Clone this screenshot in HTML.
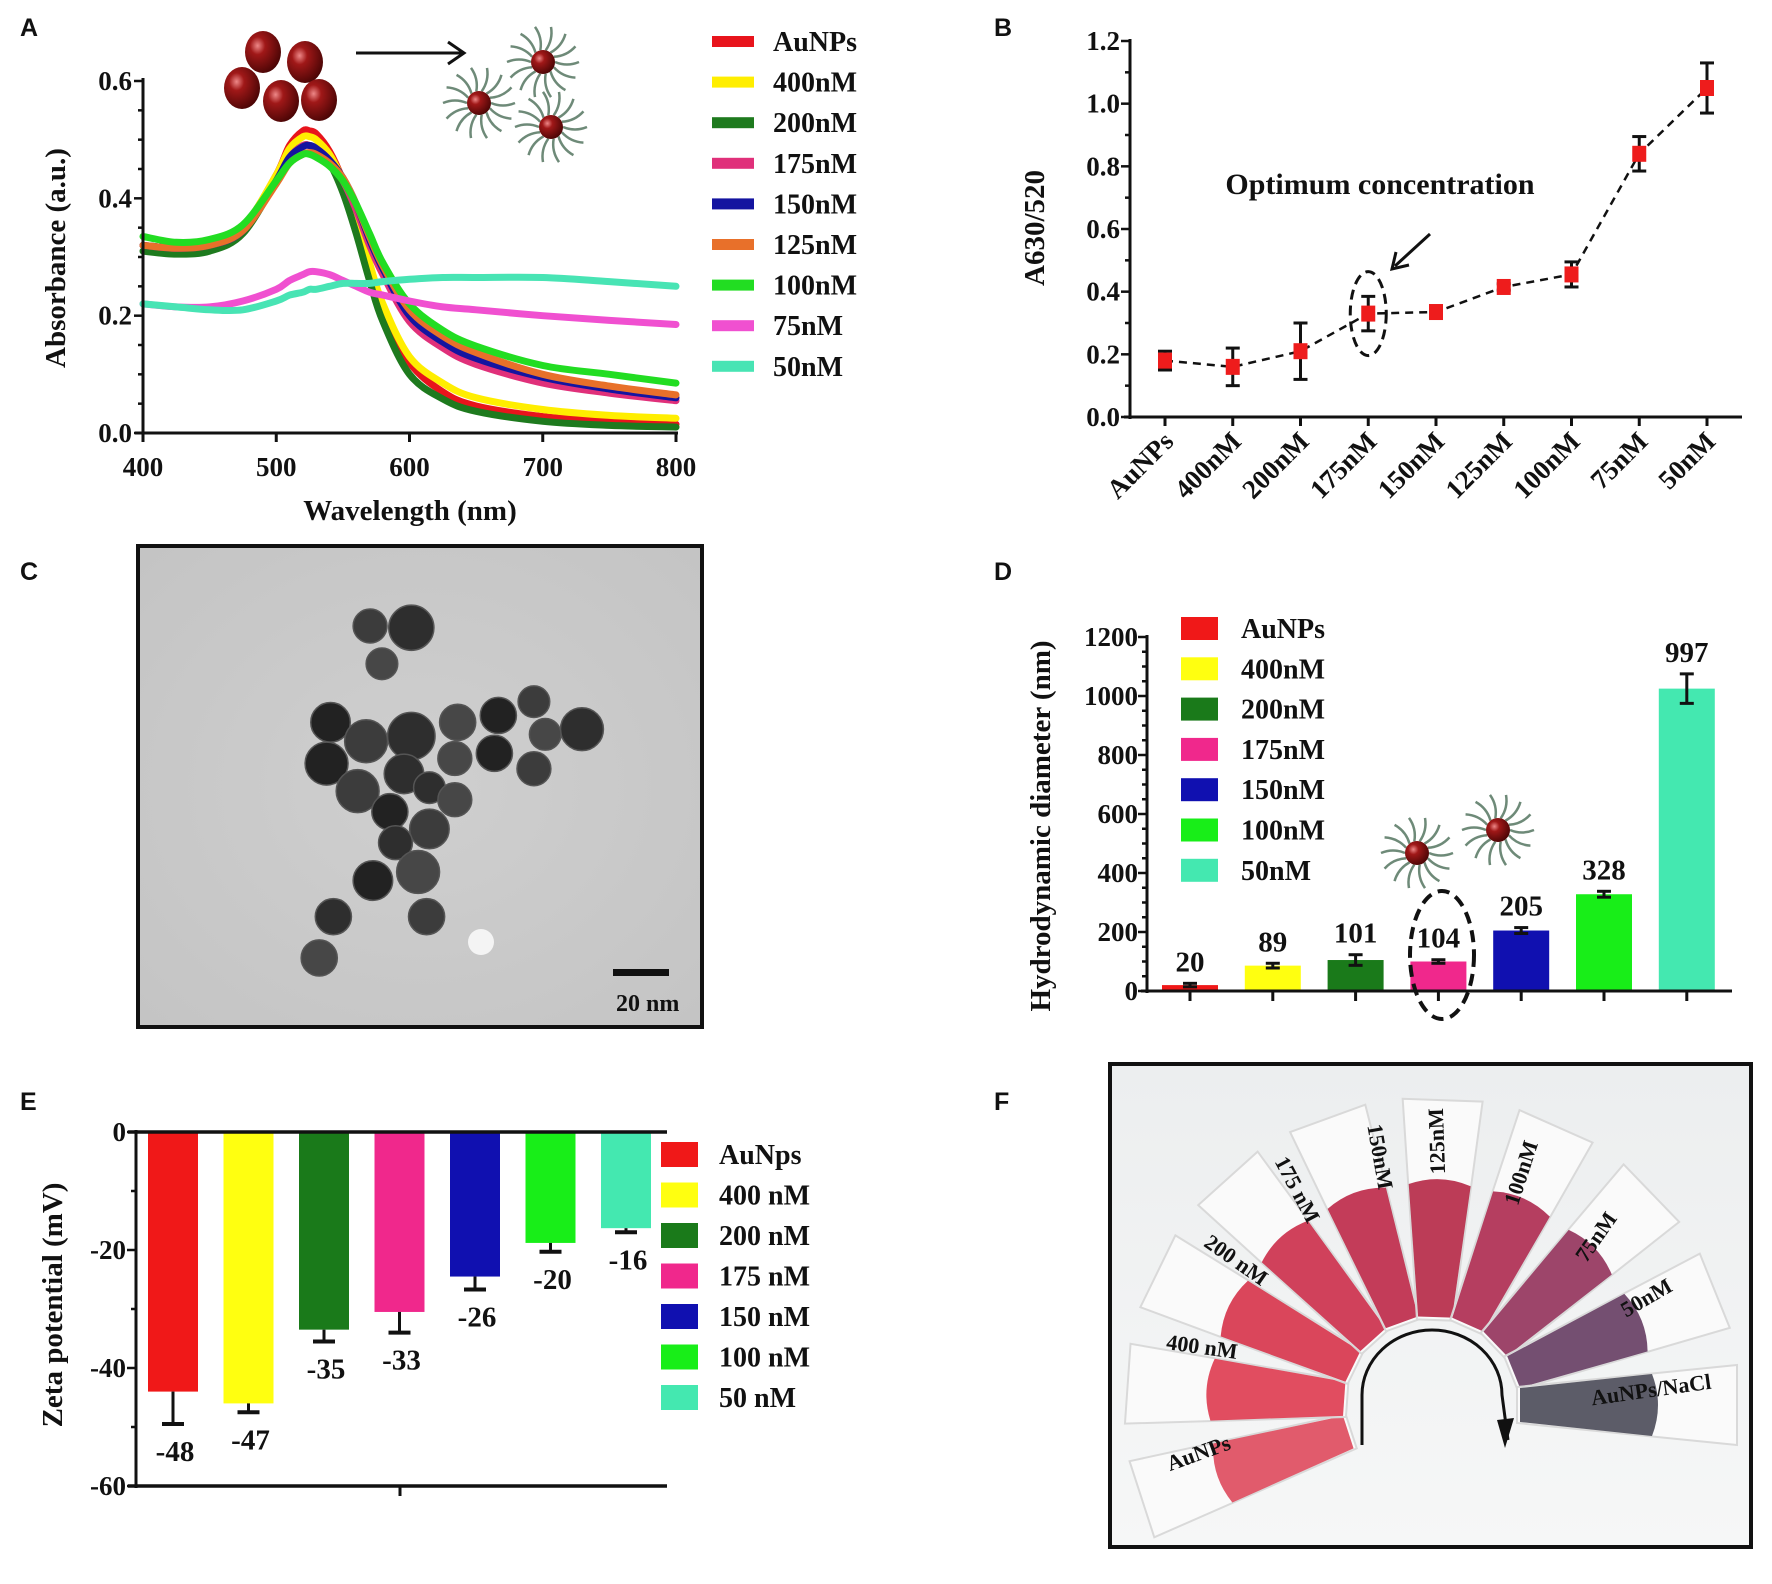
<!DOCTYPE html>
<html><head><meta charset="utf-8">
<style>
body{margin:0;background:#fff;}
svg{display:block;}
text{font-family:"Liberation Serif",serif;font-weight:bold;fill:#111;}
.pl{font-family:"Liberation Sans",sans-serif;font-weight:bold;font-size:25px;}
</style></head>
<body>
<svg id="fig" width="1772" height="1584" viewBox="0 0 1772 1584" xmlns="http://www.w3.org/2000/svg">
<defs>
<radialGradient id="np" cx="0.35" cy="0.35" r="0.7"><stop offset="0" stop-color="#e88"/><stop offset="0.3" stop-color="#a01818"/><stop offset="1" stop-color="#4a0505"/></radialGradient>
<linearGradient id="photoBg" x1="0" y1="0" x2="0" y2="1"><stop offset="0" stop-color="#eceeef"/><stop offset="1" stop-color="#f6f7f7"/></linearGradient>
<radialGradient id="tem" cx="0.5" cy="0.5" r="0.7"><stop offset="0" stop-color="#cfcfcf"/><stop offset="1" stop-color="#c4c4c4"/></radialGradient>
</defs>
<g id="root"></g>
</svg>
<script>
// ---------- Panel A data ----------
const wavelengths=[400,425,450,475,500,510,520,525,530,540,550,560,570,580,600,625,650,700,750,800];
const seriesA_names=["AuNPs","400nM","200nM","175nM","150nM","125nM","100nM","75nM","50nM"];
const seriesA_colors=["#e8141c","#ffee00","#1e7a1e","#e0307a","#1414a0","#e8702a","#22dd22","#f050d0","#48e4b4"];
const sA_AuNPs=[0.32,0.315,0.32,0.35,0.44,0.49,0.515,0.515,0.51,0.48,0.43,0.36,0.28,0.21,0.12,0.07,0.046,0.028,0.02,0.015];
const sA_400=[0.32,0.315,0.32,0.35,0.44,0.485,0.505,0.505,0.50,0.475,0.43,0.37,0.29,0.22,0.13,0.085,0.06,0.04,0.03,0.025];
const sA_200=[0.31,0.305,0.31,0.34,0.43,0.47,0.49,0.49,0.485,0.46,0.41,0.34,0.26,0.19,0.10,0.058,0.037,0.02,0.013,0.01];
const sA_175=[0.32,0.315,0.32,0.345,0.43,0.47,0.49,0.49,0.485,0.465,0.43,0.38,0.32,0.27,0.19,0.145,0.117,0.085,0.068,0.055];
const sA_150=[0.32,0.315,0.32,0.345,0.43,0.47,0.488,0.49,0.485,0.465,0.435,0.39,0.33,0.28,0.20,0.155,0.127,0.095,0.075,0.06];
const sA_125=[0.32,0.315,0.32,0.345,0.425,0.46,0.475,0.478,0.475,0.46,0.435,0.39,0.335,0.285,0.21,0.165,0.137,0.10,0.08,0.065];
const sA_100=[0.335,0.325,0.33,0.355,0.43,0.46,0.475,0.475,0.47,0.455,0.43,0.39,0.34,0.29,0.22,0.175,0.148,0.115,0.10,0.085];
const sA_75=[0.22,0.215,0.215,0.225,0.245,0.26,0.27,0.275,0.275,0.27,0.26,0.25,0.24,0.235,0.225,0.215,0.21,0.20,0.192,0.185];
const sA_50=[0.22,0.215,0.21,0.21,0.225,0.235,0.24,0.245,0.245,0.25,0.255,0.255,0.255,0.258,0.262,0.265,0.265,0.265,0.258,0.25];
const seriesA=[sA_AuNPs,sA_400,sA_200,sA_175,sA_150,sA_125,sA_100,sA_75,sA_50];
const ticksAx=[400,500,600,700,800];
const ticksAy=[0.0,0.2,0.4,0.6];

// ---------- Panel B data ----------
const catsB=["AuNPs","400nM","200nM","175nM","150nM","125nM","100nM","75nM","50nM"];
const valsB=[0.18,0.16,0.21,0.33,0.335,0.415,0.455,0.84,1.05];
const errB=[0.03,0.06,0.09,0.055,0.02,0.01,0.04,0.055,0.08];
const ticksBy=[0.0,0.2,0.4,0.6,0.8,1.0,1.2];

// ---------- Panel D data ----------
const catsD=["AuNPs","400nM","200nM","175nM","150nM","100nM","50nM"];
const colorsD=["#f01818","#ffff10","#1a7a1a","#f0288c","#1010b0","#18ee18","#44e8b0"];
const valsD=[20,86,105,100,205,328,1025];
const errD=[6,8,18,6,10,10,50];
const labelsD=["20","89","101","104","205","328","997"];
const ticksDy=[0,200,400,600,800,1000,1200];

// ---------- Panel E data ----------
const catsE=["AuNps","400 nM","200 nM","175 nM","150 nM","100 nM","50 nM"];
const valsE=[-44,-46,-33.5,-30.5,-24.5,-18.8,-16.3];
const errE=[5.5,1.5,2,3.5,2.2,1.5,0.7];
const labelsE=["-48","-47","-35","-33","-26","-20","-16"];
const ticksEy=[0,-20,-40,-60];

const NS="http://www.w3.org/2000/svg";
const root=document.getElementById('root');
function mk(tag,attrs,parent){const e=document.createElementNS(NS,tag);for(const k in attrs)e.setAttribute(k,attrs[k]);(parent||root).appendChild(e);return e;}
function txt(s,attrs,parent){const e=mk('text',attrs,parent);e.textContent=s;return e;}
function smooth(pts){let d='M'+pts[0][0].toFixed(1)+','+pts[0][1].toFixed(1);
  for(let i=0;i<pts.length-1;i++){const p0=pts[Math.max(0,i-1)],p1=pts[i],p2=pts[i+1],p3=pts[Math.min(pts.length-1,i+2)];
    const c1x=p1[0]+(p2[0]-p0[0])/6,c1y=p1[1]+(p2[1]-p0[1])/6,c2x=p2[0]-(p3[0]-p1[0])/6,c2y=p2[1]-(p3[1]-p1[1])/6;
    d+=` C${c1x.toFixed(1)},${c1y.toFixed(1)} ${c2x.toFixed(1)},${c2y.toFixed(1)} ${p2[0].toFixed(1)},${p2[1].toFixed(1)}`;}
  return d;}

// panel labels
[["A",20,36],["B",994,36],["C",20,580],["D",994,580],["E",20,1110],["F",994,1110]].forEach(p=>{
  const t=txt(p[0],{x:p[1],y:p[2],class:'pl'});
  
  
});

// ================= Panel A =================
const gA=mk('g',{});


const axA={x0:143,x1:676,y0:433,y1:81};
const xA=v=>axA.x0+(v-400)/(800-400)*(axA.x1-axA.x0);
const yA=v=>axA.y0-(v-0)/(0.6)*(axA.y0-axA.y1);
for(let i=0;i<seriesA.length;i++){
  const d=smooth(seriesA[i].map((v,j)=>[xA(wavelengths[j]),yA(v)]));
  const p=mk('path',{d:d,fill:'none',stroke:seriesA_colors[i],'stroke-width':7,'stroke-linejoin':'round','stroke-linecap':'round'},gA);
  
  
}
mk('line',{x1:axA.x0,y1:axA.y1-3,x2:axA.x0,y2:axA.y0+2,stroke:'#111','stroke-width':3},gA);
mk('line',{x1:axA.x0-8,y1:axA.y0,x2:axA.x1+2,y2:axA.y0,stroke:'#111','stroke-width':3},gA);
ticksAx.forEach(v=>{mk('line',{x1:xA(v),y1:axA.y0,x2:xA(v),y2:axA.y0+9,stroke:'#111','stroke-width':3},gA);
  const t=txt(String(v),{x:xA(v),y:476,'font-size':27,'text-anchor':'middle'},gA);
  });
for(let v=0;v<=0.6001;v+=0.05){mk('line',{x1:axA.x0-(Math.round(v*100)%20===0?9:5),y1:yA(v),x2:axA.x0,y2:yA(v),stroke:'#111','stroke-width':2.5},gA);}
ticksAy.forEach(v=>{const t=txt(v.toFixed(1),{x:axA.x0-11,y:yA(v)+9,'font-size':27,'text-anchor':'end'},gA);
  });
let t=txt("Wavelength (nm)",{x:410,y:520,'font-size':29,'text-anchor':'middle'},gA);

t=txt("Absorbance (a.u.)",{x:0,y:0,'font-size':29,'text-anchor':'middle',transform:'translate(65,258) rotate(-90)'},gA);

seriesA_names.forEach((n,i)=>{
  const y=41+i*40.6;
  const r=mk('rect',{x:712,y:y-5,width:42,height:11,fill:seriesA_colors[i]},gA);
  
  const l=txt(n,{x:773,y:y+10,'font-size':28},gA);
  
});
// icons
function coated(cx,cy,r,parent){
  const g=mk('g',{},parent);
  for(let k=0;k<14;k++){const a=k/14*Math.PI*2;const x1=cx+Math.cos(a)*r,y1=cy+Math.sin(a)*r,x2=cx+Math.cos(a)*r*3,y2=cy+Math.sin(a)*r*3;
    const mx=(x1+x2)/2+Math.cos(a+1.57)*5,my=(y1+y2)/2+Math.sin(a+1.57)*5;
    mk('path',{d:`M${x1},${y1} Q${mx},${my} ${x2},${y2}`,stroke:'#6e8a78','stroke-width':2.5,fill:'none'},g);}
  mk('circle',{cx:cx,cy:cy,r:r,fill:'url(#np)'},g);return g;}
const iconsA=mk('g',{},gA);


[[263,52],[305,62],[242,88],[281,101],[319,100]].forEach(c=>mk('ellipse',{cx:c[0],cy:c[1],rx:18,ry:21,fill:'url(#np)'},iconsA));
mk('line',{x1:356,y1:53,x2:462,y2:53,stroke:'#111','stroke-width':3},iconsA);
mk('path',{d:'M448,42 L464,53 L448,64',stroke:'#111','stroke-width':3,fill:'none'},iconsA);
coated(543,62,12,iconsA);coated(479,103,12,iconsA);coated(551,127,12,iconsA);

// ================= Panel B =================
const gB=mk('g',{});


const axB={x0:1130,x1:1742,y0:417,y1:41,c0:1165,step:67.75};
const xB=i=>axB.c0+i*axB.step;
const yB=v=>axB.y0-v/1.2*(axB.y0-axB.y1);
mk('line',{x1:axB.x0,y1:axB.y1-2,x2:axB.x0,y2:axB.y0+2,stroke:'#111','stroke-width':3},gB);
mk('line',{x1:axB.x0-6,y1:axB.y0,x2:axB.x1,y2:axB.y0,stroke:'#111','stroke-width':3},gB);
for(let v=0;v<=1.2001;v+=0.1){mk('line',{x1:axB.x0-(Math.round(v*10)%2===0?9:5),y1:yB(v),x2:axB.x0,y2:yB(v),stroke:'#111','stroke-width':2.5},gB);}
ticksBy.forEach(v=>{const t=txt(v.toFixed(1),{x:axB.x0-10,y:yB(v)+9,'font-size':27,'text-anchor':'end'},gB);
  });
catsB.forEach((c,i)=>{mk('line',{x1:xB(i),y1:axB.y0,x2:xB(i),y2:axB.y0+9,stroke:'#111','stroke-width':3},gB);
  const t=txt(c,{x:0,y:0,'font-size':27,'text-anchor':'end',transform:`translate(${xB(i)+10},${axB.y0+26}) rotate(-45)`},gB);
  });
mk('path',{d:valsB.map((v,i)=>(i?'L':'M')+xB(i)+','+yB(v)).join(' '),stroke:'#111','stroke-width':2.5,'stroke-dasharray':'8,6',fill:'none'},gB);
valsB.forEach((v,i)=>{const x=xB(i);
  mk('line',{x1:x,y1:yB(v+errB[i]),x2:x,y2:yB(v-errB[i]),stroke:'#111','stroke-width':3},gB);
  mk('line',{x1:x-7,y1:yB(v+errB[i]),x2:x+7,y2:yB(v+errB[i]),stroke:'#111','stroke-width':3},gB);
  mk('line',{x1:x-7,y1:yB(v-errB[i]),x2:x+7,y2:yB(v-errB[i]),stroke:'#111','stroke-width':3},gB);
  const p=mk('rect',{x:x-7,y:yB(v)-8,width:14,height:16,fill:'#ee1c1c'},gB);
  });
mk('ellipse',{cx:xB(3),cy:yB(0.33),rx:18,ry:42,fill:'none',stroke:'#111','stroke-width':3,'stroke-dasharray':'10,6'},gB);
mk('line',{x1:1430,y1:234,x2:1395,y2:266,stroke:'#111','stroke-width':3},gB);
mk('path',{d:'M1396,252 L1392,269 L1409,265',stroke:'#111','stroke-width':3,fill:'none'},gB);
t=txt("Optimum  concentration",{x:1380,y:194,'font-size':30,'text-anchor':'middle'},gB);

t=txt("A630/520",{x:0,y:0,'font-size':29,'text-anchor':'middle',transform:'translate(1044,228) rotate(-90)'},gB);


// ================= Panel C (TEM) =================
const gC=mk('g',{});


mk('rect',{x:138,y:546,width:564,height:481,fill:'url(#tem)',stroke:'#111','stroke-width':4},gC);
const partC=[[655,250,30],[728,255,40],[676,360,28],[585,530,35],[648,585,38],[728,570,42],[810,530,32],[882,510,32],[945,470,28],[1030,550,38],[965,565,28],[578,650,38],[633,730,38],[715,680,35],[805,635,30],[875,620,32],[945,665,30],[760,720,28],[805,755,30],[690,790,32],[760,840,35],[700,880,30],[740,965,38],[660,990,35],[755,1095,32],[590,1095,32],[565,1215,32]];
partC.forEach((p,i)=>{const c=mk('circle',{cx:p[0]*0.565,cy:540+p[1]*0.344,r:p[2]*0.565,fill:['#3c3c3c','#2e2e2e','#474747','#222'][i%4],stroke:'#555','stroke-width':1.5},gC);
  });
mk('circle',{cx:481,cy:942,r:13,fill:'#f4f4f4'},gC);
mk('rect',{x:613,y:969,width:56,height:7,fill:'#111'},gC);
t=txt("20  nm",{x:616,y:1011,'font-size':24,'font-weight':'normal'},gC);


// ================= Panel D =================
const gD=mk('g',{});


const axD={x0:1147,x1:1732,y0:991,y1:637,c0:1190,step:82.8,bw:56};
const xD=i=>axD.c0+i*axD.step;
const yD=v=>axD.y0-v/1200*(axD.y0-axD.y1);
valsD.forEach((v,i)=>{const x=xD(i);
  const b=mk('rect',{x:x-axD.bw/2,y:yD(v),width:axD.bw,height:axD.y0-yD(v),fill:colorsD[i]},gD);
  
  mk('line',{x1:x,y1:yD(v+errD[i]),x2:x,y2:yD(v-errD[i]),stroke:'#111','stroke-width':3},gD);
  mk('line',{x1:x-7,y1:yD(v+errD[i]),x2:x+7,y2:yD(v+errD[i]),stroke:'#111','stroke-width':3},gD);
  mk('line',{x1:x-7,y1:yD(v-errD[i]),x2:x+7,y2:yD(v-errD[i]),stroke:'#111','stroke-width':3},gD);
  const l=txt(labelsD[i],{x:x,y:yD(v+errD[i])-12,'font-size':29,'text-anchor':'middle'},gD);
  
  mk('line',{x1:x,y1:axD.y0,x2:x,y2:axD.y0+10,stroke:'#111','stroke-width':3},gD);});
mk('line',{x1:axD.x0,y1:axD.y1-2,x2:axD.x0,y2:axD.y0+2,stroke:'#111','stroke-width':3},gD);
mk('line',{x1:axD.x0-6,y1:axD.y0,x2:axD.x1,y2:axD.y0,stroke:'#111','stroke-width':3},gD);
for(let v=0;v<=1200;v+=50){mk('line',{x1:axD.x0-(v%200===0?9:5),y1:yD(v),x2:axD.x0,y2:yD(v),stroke:'#111','stroke-width':2.5},gD);}
ticksDy.forEach(v=>{const t=txt(String(v),{x:axD.x0-9,y:yD(v)+9,'font-size':27,'text-anchor':'end'},gD);
  });
catsD.forEach((n,i)=>{const y=628+i*40.3;
  const r=mk('rect',{x:1181,y:y-11,width:37,height:23,fill:colorsD[i]},gD);
  
  const l=txt(n,{x:1241,y:y+10,'font-size':28},gD);
  });
mk('ellipse',{cx:1442,cy:955,rx:32,ry:64,fill:'none',stroke:'#111','stroke-width':4,'stroke-dasharray':'12,7'},gD);
coated(1417,853,12,gD);coated(1498,830,12,gD);
t=txt("Hydrodynamic diameter (nm)",{x:0,y:0,'font-size':29,'text-anchor':'middle',transform:'translate(1050,826) rotate(-90)'},gD);


// ================= Panel E =================
const gE=mk('g',{});


const axE={x0:136,x1:667,y0:1132,y1:1486,c0:173,step:75.5,bw:50};
const xE=i=>axE.c0+i*axE.step;
const yE=v=>axE.y0+(-v)/60*(axE.y1-axE.y0);
valsE.forEach((v,i)=>{const x=xE(i);
  const b=mk('rect',{x:x-axE.bw/2,y:axE.y0,width:axE.bw,height:yE(v)-axE.y0,fill:colorsD[i]},gE);
  
  const e=yE(v-errE[i]);
  mk('line',{x1:x,y1:yE(v),x2:x,y2:e,stroke:'#111','stroke-width':3},gE);
  mk('line',{x1:x-11,y1:e,x2:x+11,y2:e,stroke:'#111','stroke-width':4},gE);
  const l=txt(labelsE[i],{x:x+2,y:e+37,'font-size':29,'text-anchor':'middle'},gE);
  });
mk('line',{x1:axE.x0,y1:axE.y0-2,x2:axE.x0,y2:axE.y1+2,stroke:'#111','stroke-width':3},gE);
mk('line',{x1:axE.x0-8,y1:axE.y0,x2:axE.x1,y2:axE.y0,stroke:'#111','stroke-width':3.5},gE);
mk('line',{x1:axE.x0-8,y1:axE.y1,x2:axE.x1,y2:axE.y1,stroke:'#111','stroke-width':3.5},gE);
mk('line',{x1:400,y1:axE.y1,x2:400,y2:axE.y1+10,stroke:'#111','stroke-width':3},gE);
for(let v=0;v>=-60;v-=10){mk('line',{x1:axE.x0-(v%20===0?9:5),y1:yE(v),x2:axE.x0,y2:yE(v),stroke:'#111','stroke-width':2.5},gE);}
ticksEy.forEach(v=>{const t=txt(String(v),{x:axE.x0-10,y:yE(v)+9,'font-size':27,'text-anchor':'end'},gE);
  });
catsE.forEach((n,i)=>{const y=1154+i*40.5;
  const r=mk('rect',{x:661,y:y-12,width:37,height:25,fill:colorsD[i]},gE);
  
  const l=txt(n,{x:719,y:y+10,'font-size':28},gE);
  });
t=txt("Zeta potential  (mV)",{x:0,y:0,'font-size':29,'text-anchor':'middle',transform:'translate(62,1305) rotate(-90)'},gE);


// ================= Panel F (photo) =================
const gF=mk('g',{});


mk('rect',{x:1110,y:1064,width:641,height:483,fill:'url(#photoBg)',stroke:'#111','stroke-width':4},gF);
const cxF=1432,cyF=1405;
const tubeCols=["#dc3e52","#dc2e44","#d4263e","#c8203e","#b81a3c","#b01a3a","#a81c44","#8c2450","#5c3058","#40404e"];
const tubeNames=["AuNPs","400 nM","200 nM","175 nM","150nM","125nM","100nM","75nM","50nM","AuNPs/NaCl"];
for(let i=0;i<10;i++){
  const g=mk('g',{transform:`translate(${cxF},${cyF}) rotate(${-(198-i*22)})`},gF);
  
  
  mk('path',{d:'M85,-18 L305,-40 L305,40 L85,18 Z',fill:'#fbfbfb',stroke:'#d8d8d8','stroke-width':2,opacity:0.95},g);
  mk('path',{d:'M88,-17 L220,-31 Q232,0 220,31 L88,17 Z',fill:tubeCols[i],opacity:0.85},g);
}
mk('path',{d:'M1362,1445 L1362,1395 A70,65 0 0 1 1502,1395 L1508,1440',fill:'none',stroke:'#111','stroke-width':3},gF);
mk('path',{d:'M1497,1420 L1505,1448 L1514,1418 Z',fill:'#111'},gF);
const lblF=[["AuNPs",1201,1460,-20],["400 nM",1201,1354,8],["200 nM",1232,1266,35],["175 nM",1291,1193,62],["150nM",1373,1158,80],["125nM",1444,1141,-92],["100nM",1528,1175,-72],["75nM",1602,1241,-55],["50nM",1650,1304,-30],["AuNPs/NaCl",1652,1397,-8]];
lblF.forEach(l=>{const e=txt(l[0],{x:0,y:0,'font-size':22,'text-anchor':'middle',transform:`translate(${l[1]},${l[2]}) rotate(${l[3]})`},gF);
  });
</script>
</body></html>
